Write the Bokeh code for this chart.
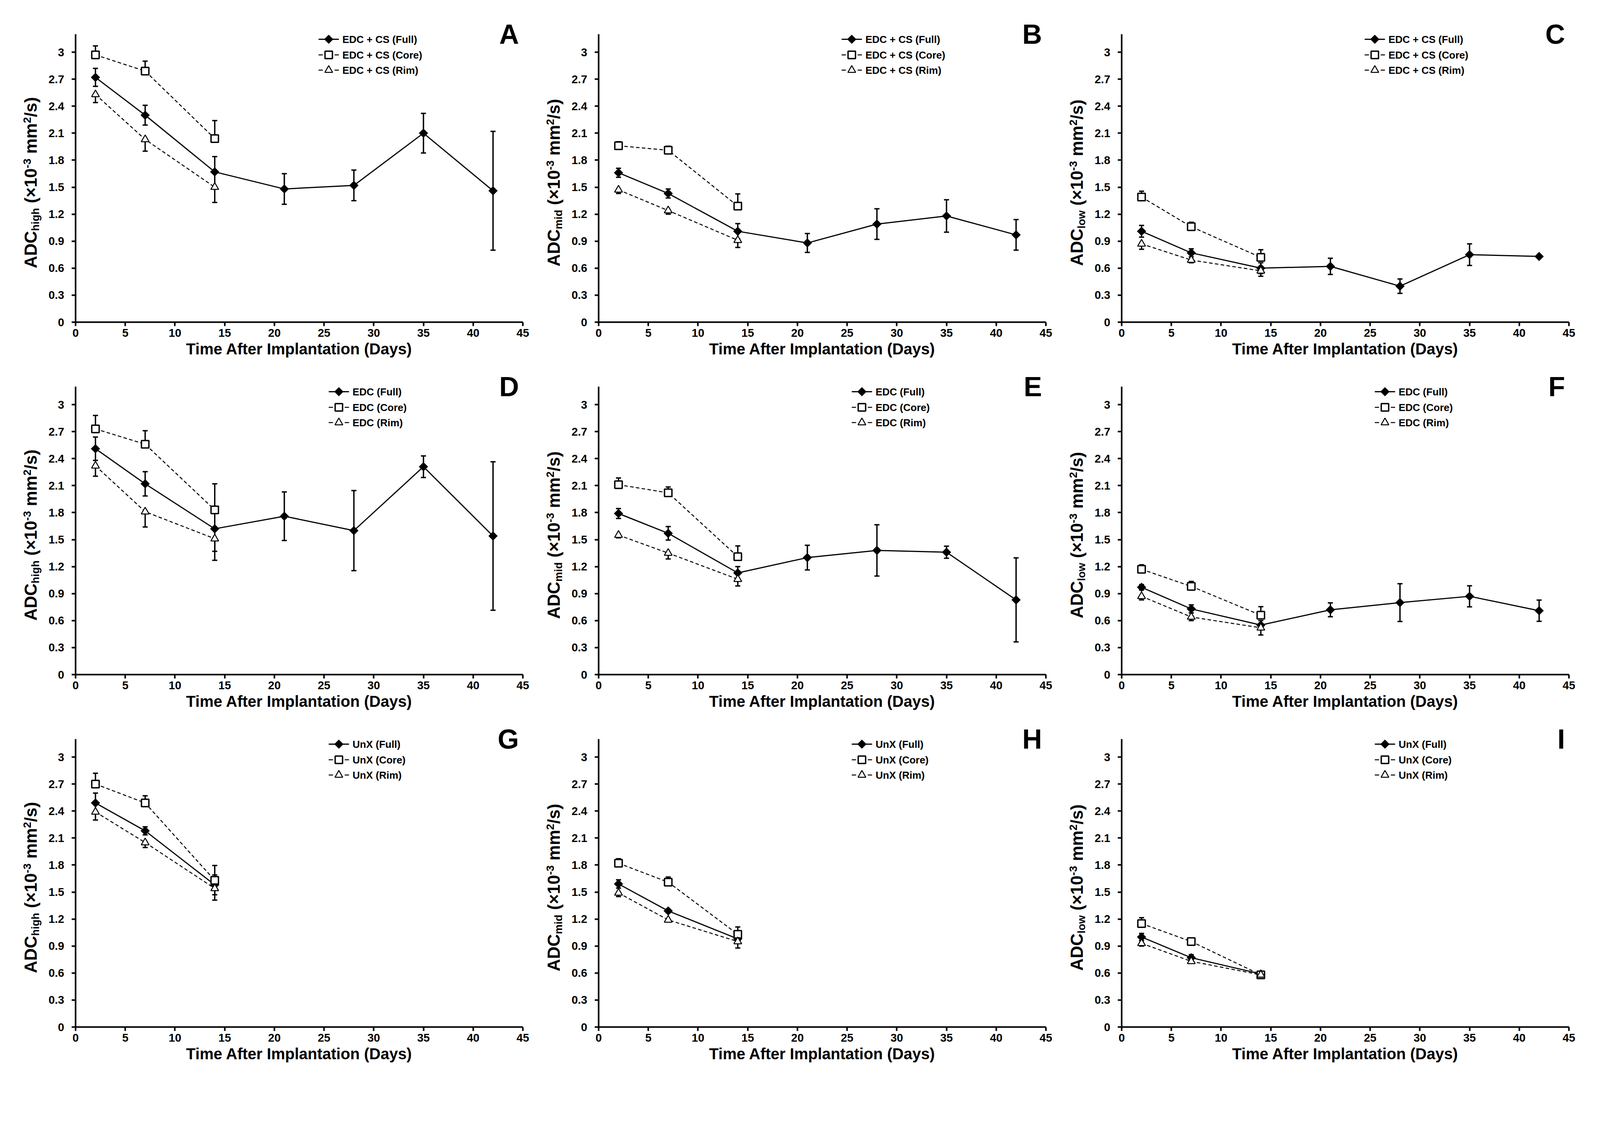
import math
from bokeh.plotting import figure
from bokeh.models import Range1d, FixedTicker, Label, Spacer
from bokeh.layouts import row, column
from bokeh.embed import file_html
from bokeh.resources import INLINE

# ---------------- data ----------------
days_full = [2, 7, 14, 21, 28, 35, 42]
days_short = [2, 7, 14]
x_ticks = [0, 5, 10, 15, 20, 25, 30, 35, 40, 45]
y_ticks = [0, 0.3, 0.6, 0.9, 1.2, 1.5, 1.8, 2.1, 2.4, 2.7, 3]
y_tick_labels = ["0", "0.3", "0.6", "0.9", "1.2", "1.5", "1.8", "2.1", "2.4", "2.7", "3"]
x_title = "Time After Implantation (Days)"
groups = ["EDC + CS", "EDC", "UnX"]
regions = ["Full", "Core", "Rim"]
adc_kinds = ["high", "mid", "low"]
letters = ["A", "B", "C", "D", "E", "F", "G", "H", "I"]

# Panel A : EDC + CS, ADC high
A_full = [2.72, 2.30, 1.67, 1.48, 1.52, 2.10, 1.46]
A_full_err = [0.10, 0.11, 0.17, 0.17, 0.17, 0.22, 0.66]
A_core = [2.97, 2.79, 2.04]
A_core_err = [0.10, 0.11, 0.20]
A_rim = [2.53, 2.03, 1.50]
A_rim_err = [0.09, 0.13, 0.17]
# Panel B : EDC + CS, ADC mid
B_full = [1.66, 1.43, 1.01, 0.88, 1.09, 1.18, 0.97]
B_full_err = [0.05, 0.05, 0.085, 0.105, 0.17, 0.18, 0.17]
B_core = [1.96, 1.91, 1.29]
B_core_err = [0.045, 0.045, 0.135]
B_rim = [1.47, 1.24, 0.91]
B_rim_err = [0.04, 0.04, 0.08]
# Panel C : EDC + CS, ADC low
C_full = [1.01, 0.77, 0.60, 0.62, 0.40, 0.75, 0.73]
C_full_err = [0.065, 0.045, 0.06, 0.09, 0.08, 0.12, 0.01]
C_core = [1.39, 1.06, 0.72]
C_core_err = [0.065, 0.05, 0.085]
C_rim = [0.87, 0.69, 0.57]
C_rim_err = [0.06, 0.03, 0.06]
# Panel D : EDC, ADC high
D_full = [2.51, 2.12, 1.62, 1.76, 1.60, 2.31, 1.54]
D_full_err = [0.13, 0.135, 0.25, 0.27, 0.445, 0.12, 0.825]
D_core = [2.73, 2.56, 1.83]
D_core_err = [0.15, 0.15, 0.29]
D_rim = [2.32, 1.81, 1.51]
D_rim_err = [0.115, 0.17, 0.24]
# Panel E : EDC, ADC mid
E_full = [1.79, 1.57, 1.13, 1.30, 1.38, 1.36, 0.83]
E_full_err = [0.055, 0.075, 0.07, 0.137, 0.285, 0.067, 0.467]
E_core = [2.11, 2.02, 1.31]
E_core_err = [0.075, 0.065, 0.12]
E_rim = [1.55, 1.35, 1.06]
E_rim_err = [0.03, 0.065, 0.075]
# Panel F : EDC, ADC low
F_full = [0.97, 0.73, 0.55, 0.72, 0.80, 0.87, 0.71]
F_full_err = [0.03, 0.045, 0.05, 0.077, 0.21, 0.117, 0.118]
F_core = [1.17, 0.98, 0.66]
F_core_err = [0.05, 0.055, 0.095]
F_rim = [0.87, 0.64, 0.52]
F_rim_err = [0.04, 0.04, 0.08]
# Panel G : UnX, ADC high
G_full = [2.49, 2.18, 1.58]
G_full_err = [0.11, 0.045, 0.11]
G_core = [2.70, 2.49, 1.63]
G_core_err = [0.12, 0.08, 0.165]
G_rim = [2.39, 2.05, 1.54]
G_rim_err = [0.09, 0.055, 0.13]
# Panel H : UnX, ADC mid
H_full = [1.59, 1.29, 0.98]
H_full_err = [0.046, 0.02, 0.03]
H_core = [1.82, 1.61, 1.03]
H_core_err = [0.05, 0.057, 0.082]
H_rim = [1.49, 1.19, 0.95]
H_rim_err = [0.04, 0.02, 0.072]
# Panel I : UnX, ADC low
I_full = [1.00, 0.77, 0.59]
I_full_err = [0.04, 0.034, 0.015]
I_core = [1.15, 0.95, 0.58]
I_core_err = [0.065, 0.03, 0.02]
I_rim = [0.93, 0.73, 0.58]
I_rim_err = [0.03, 0.02, 0.02]

panel_data = [
    (A_full, A_full_err, A_core, A_core_err, A_rim, A_rim_err),
    (B_full, B_full_err, B_core, B_core_err, B_rim, B_rim_err),
    (C_full, C_full_err, C_core, C_core_err, C_rim, C_rim_err),
    (D_full, D_full_err, D_core, D_core_err, D_rim, D_rim_err),
    (E_full, E_full_err, E_core, E_core_err, E_rim, E_rim_err),
    (F_full, F_full_err, F_core, F_core_err, F_rim, F_rim_err),
    (G_full, G_full_err, G_core, G_core_err, G_rim, G_rim_err),
    (H_full, H_full_err, H_core, H_core_err, H_rim, H_rim_err),
    (I_full, I_full_err, I_core, I_core_err, I_rim, I_rim_err),
]

# ---------------- layout (pixels) ----------------
FONT = "Liberation Sans"
X_MAX, Y_MAX = 45, 3.2
LEFT_PX, PLOT_W, RIGHT_PX = 160, 1145, 34
TOP_PX, PLOT_H, BOT_PX = 53, 737, 112
FIG_W = LEFT_PX + PLOT_W + RIGHT_PX
FIG_H = TOP_PX + PLOT_H + BOT_PX
PPX = PLOT_W / X_MAX          # pixels per day
PPY = PLOT_H / Y_MAX          # pixels per ADC unit
X0 = -LEFT_PX / PPX
X1 = X_MAX + RIGHT_PX / PPX
Y0 = -BOT_PX / PPY
Y1 = Y_MAX + TOP_PX / PPY
LEGEND_DX = [622, 648, 648]   # legend glyph start, px right of y axis
LEGEND_DY = [13, 53, 92]      # legend row centres, px below top of axis

ADV = {"A": 722, "D": 722, "C": 722, "h": 611, "i": 278, "g": 611, "m": 889, "d": 611,
       "l": 278, "o": 611, "w": 778, " ": 278, "(": 333, "×": 584, "1": 556, "0": 556,
       "-": 333, "3": 556, "2": 556, "/": 278, "s": 556, ")": 333}


def text_w(s, size):
    return sum(ADV.get(c, 556) for c in s) / 1000.0 * size


def dx(px):   # px right of the y axis -> data x
    return px / PPX


def dy(px):   # px above the x axis -> data y
    return px / PPY


def label(p, x, y, text, size, align="left", angle=0.0):
    p.add_layout(Label(x=x, y=y, x_units="screen", y_units="screen", text=text,
                       angle=angle, text_align=align, text_baseline="middle",
                       text_font=FONT, text_font_style="bold",
                       text_font_size=f"{size}px", text_color="black"))


def add_ylabel(p, kind):
    S, s = 44, 28
    sub, sup = 12, -9.5
    space = text_w(" ", S)
    pieces = [("ADC", S, 0, 0), (kind, s, sub, space), ("(×10", S, 0, 0),
              ("-3", s, sup, space), ("mm", S, 0, 0), ("2", s, sup, 0), ("/s)", S, 0, 0)]
    total = sum(text_w(t, sz) + gap for t, sz, _, gap in pieces)
    cur = BOT_PX + 1.55 * PPY - total / 2
    centre_x = LEFT_PX - 115
    for t, sz, sh, gap in pieces:
        label(p, centre_x + sh, cur, t, sz, angle=math.pi / 2)
        cur += text_w(t, sz) + gap


def make_panel(idx):
    rrow, col = divmod(idx, 3)
    full, full_e, core, core_e, rim, rim_e = panel_data[idx]
    days_f = days_full if len(full) == len(days_full) else days_short
    group = groups[rrow]

    p = figure(width=FIG_W, height=FIG_H, x_range=Range1d(X0, X1), y_range=Range1d(Y0, Y1),
               output_backend="svg", toolbar_location=None, min_border=0)
    p.min_border_left = p.min_border_right = p.min_border_top = p.min_border_bottom = 0
    p.outline_line_color = None
    p.grid.visible = False
    p.background_fill_color = "white"
    p.border_fill_color = "white"

    for ax in (p.xaxis, p.yaxis):
        ax.fixed_location = 0
        ax.axis_line_width = 4
        ax.axis_line_color = "black"
        ax.major_tick_line_width = 4
        ax.major_tick_line_color = "black"
        ax.major_tick_out = 10
        ax.major_tick_in = 0
        ax.minor_tick_line_color = None
        ax.major_label_text_font = FONT
        ax.major_label_text_font_style = "bold"
        ax.major_label_text_font_size = "29px"
        ax.major_label_text_color = "black"
    p.xaxis.bounds = (0, X_MAX)
    p.yaxis.bounds = (0, Y_MAX)
    p.xaxis.ticker = FixedTicker(ticks=x_ticks)
    p.yaxis.ticker = FixedTicker(ticks=y_ticks)
    p.yaxis.major_label_overrides = {t: l for t, l in zip(y_ticks, y_tick_labels)}
    p.xaxis.major_label_standoff = 7
    p.yaxis.major_label_standoff = 19

    # error bars (drawn first, markers on top)
    def errbars(xs, ys, es, mode):
        lo = [y - e if mode in ("both", "minus") else y for y, e in zip(ys, es)]
        hi = [y + e if mode in ("both", "plus") else y for y, e in zip(ys, es)]
        p.segment(x0=xs, y0=lo, x1=xs, y1=hi, line_color="black", line_width=3.5)
        if mode in ("both", "plus"):
            p.scatter(xs, hi, marker="dash", size=13, line_color="black", line_width=3.5)
        if mode in ("both", "minus"):
            p.scatter(xs, lo, marker="dash", size=13, line_color="black", line_width=3.5)

    errbars(days_f, full, full_e, "both")
    errbars(days_short, core, core_e, "plus")
    errbars(days_short, rim, rim_e, "minus")

    p.line(days_short, core, line_color="black", line_width=2.5, line_dash="9 6")
    p.line(days_short, rim, line_color="black", line_width=2.5, line_dash="9 6")
    p.line(days_f, full, line_color="black", line_width=3)

    diamond = dict(marker="square", angle=math.pi / 4, size=16, fill_color="black",
                   line_color="black", line_width=1)
    square = dict(marker="square", size=19, fill_color="white", line_color="black",
                  line_width=3.5)
    triangle = dict(marker="triangle", size=20, fill_color="white", line_color="black",
                    line_width=2.5)
    p.scatter(days_f, full, **diamond)
    p.scatter(days_short, core, **square)
    p.scatter(days_short, rim, **triangle)

    # legend (drawn by hand so the diamond keeps its shape)
    gx = LEGEND_DX[rrow]
    styles = [diamond, square, triangle]
    for k in range(3):
        yk = Y_MAX - dy(LEGEND_DY[k])
        if k == 0:
            p.segment(x0=[dx(gx)], y0=[yk], x1=[dx(gx + 52)], y1=[yk],
                      line_color="black", line_width=3)
        else:
            p.segment(x0=[dx(gx), dx(gx + 41)], y0=[yk, yk],
                      x1=[dx(gx + 11), dx(gx + 52)], y1=[yk, yk],
                      line_color="black", line_width=2.5)
        p.scatter([dx(gx + 26)], [yk], **styles[k])
        label(p, LEFT_PX + gx + 61, BOT_PX + PLOT_H - LEGEND_DY[k],
              f"{group} ({regions[k]})", 26)

    add_ylabel(p, adc_kinds[col])
    label(p, LEFT_PX + PLOT_W / 2, BOT_PX - 68, x_title, 40, align="center")
    label(p, LEFT_PX + PLOT_W - 10, BOT_PX + PLOT_H, letters[idx], 70, align="right")
    return p


figs = [make_panel(i) for i in range(9)]
layout = column(
    Spacer(height=34),
    row(Spacer(width=33), figs[0], figs[1], figs[2]),
    row(Spacer(width=33), figs[3], figs[4], figs[5]),
    row(Spacer(width=33), figs[6], figs[7], figs[8]),
)

open("out.html", "w").write(file_html(layout, INLINE))
